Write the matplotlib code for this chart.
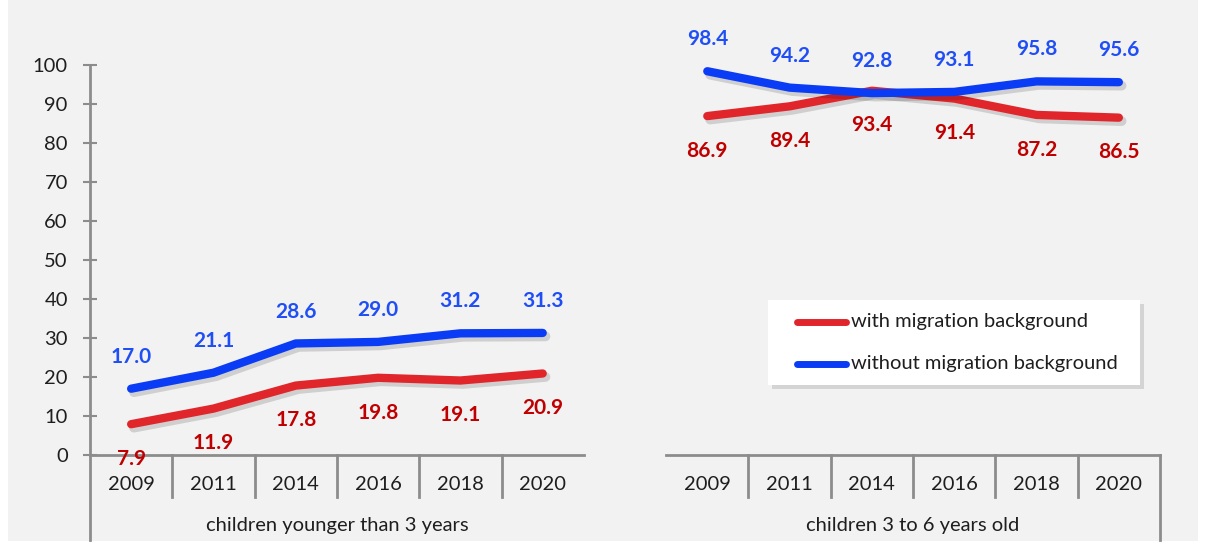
import matplotlib
matplotlib.use("Agg")
import matplotlib.pyplot as plt
import matplotlib.patheffects as pe
from matplotlib.patches import Rectangle
from matplotlib.lines import Line2D

years = ["2009", "2011", "2014", "2016", "2018", "2020"]
groups = ["children younger than 3 years", "children 3 to 6 years old"]
with_mig_u3 = [7.9, 11.9, 17.8, 19.8, 19.1, 20.9]
without_mig_u3 = [17.0, 21.1, 28.6, 29.0, 31.2, 31.3]
with_mig_36 = [86.9, 89.4, 93.4, 91.4, 87.2, 86.5]
without_mig_36 = [98.4, 94.2, 92.8, 93.1, 95.8, 95.6]
series_names = ["with migration background", "without migration background"]
yticks = [0, 10, 20, 30, 40, 50, 60, 70, 80, 90, 100]

FONT = ["Lato", "DejaVu Sans"]
plt.rcParams["font.family"] = FONT

W, H = 1206, 546
fig = plt.figure(figsize=(W / 100, H / 100), dpi=100, facecolor="white")
# gray chart area
fig.patches.append(Rectangle((8 / W, 5 / H), 1190 / W, 541 / H, transform=fig.transFigure,
                             facecolor="#f2f2f2", edgecolor="none", zorder=-10))

ax = fig.add_axes([90 / W, (H - 455) / H, 1070 / W, 390 / H])
ax.set_facecolor("none")
ax.set_xlim(-0.5, 12.5)
ax.set_ylim(0, 100)
for s in ax.spines.values():
    s.set_visible(False)

axis_col = "#8c8c8c"
txt_col = "#1e1e1e"
red_line, blue_line = "#e0262b", "#0a3cf5"
red_txt, blue_txt = "#c00000", "#1f4ef5"

n = len(years)
x1 = list(range(n))
x2 = [i + n + 1 for i in range(n)]

shadow = [pe.SimpleLineShadow(offset=(2, -2.5), shadow_color="black", alpha=0.14, linewidth=7),
          pe.Normal()]

for xs, w, wo in [(x1, with_mig_u3, without_mig_u3), (x2, with_mig_36, without_mig_36)]:
    ax.plot(xs, w, color=red_line, lw=6, solid_capstyle="round", solid_joinstyle="round",
            path_effects=shadow, zorder=3)
    ax.plot(xs, wo, color=blue_line, lw=6, solid_capstyle="round", solid_joinstyle="round",
            path_effects=shadow, zorder=4)
    for x, v in zip(xs, w):
        ax.annotate(f"{v:.1f}", (x, v), xytext=(0, -25), textcoords="offset points",
                    ha="center", va="center", color=red_txt, fontsize=15, fontweight="bold",
                    annotation_clip=False, zorder=6)
    for x, v in zip(xs, wo):
        ax.annotate(f"{v:.1f}", (x, v), xytext=(0, 23), textcoords="offset points",
                    ha="center", va="center", color=blue_txt, fontsize=15, fontweight="bold",
                    annotation_clip=False, zorder=6)

# y axis
ax.set_yticks(yticks)
ax.tick_params(axis="y", direction="inout", length=10, width=1.5, color=axis_col,
               labelsize=14.5, pad=11, labelcolor=txt_col)
ax.set_xticks([])
xt = ax.get_xaxis_transform()
# left spine extended down
ax.plot([-0.5, -0.5], [1.0, -0.218], transform=xt, color=axis_col, lw=2, clip_on=False)
ax.plot([12.5, 12.5], [0.0, -0.218], transform=xt, color=axis_col, lw=2, clip_on=False)
# x axis segments
ax.plot([-0.5, n - 0.5], [0, 0], transform=xt, color=axis_col, lw=2, clip_on=False)
ax.plot([n + 0.5, 2 * n + 0.5], [0, 0], transform=xt, color=axis_col, lw=2, clip_on=False)
# dividers between categories
for xs in (x1, x2):
    for x in xs[:-1]:
        ax.plot([x + 0.5, x + 0.5], [0, -0.108], transform=xt, color=axis_col, lw=2, clip_on=False)
    for x, lab in zip(xs, years):
        ax.text(x, -0.075, lab, transform=xt, ha="center", va="center", fontsize=14.5, color=txt_col)
for xs, g in zip((x1, x2), groups):
    ax.text((xs[0] + xs[-1]) / 2, -0.18, g, transform=xt, ha="center", va="center",
            fontsize=14.5, color=txt_col)

# legend
lx0, ly0, lw_, lh_ = 768, 300, 372, 85
fig.patches.append(Rectangle(((lx0 + 4) / W, (H - ly0 - lh_ - 4) / H), lw_ / W, lh_ / H,
                             transform=fig.transFigure, facecolor="#000000", alpha=0.12,
                             edgecolor="none", zorder=7))
fig.patches.append(Rectangle((lx0 / W, (H - ly0 - lh_) / H), lw_ / W, lh_ / H,
                             transform=fig.transFigure, facecolor="white", edgecolor="none", zorder=8))
for i, (name, col) in enumerate(zip(series_names, [red_line, blue_line])):
    yy = (H - (322 + 42 * i)) / H
    fig.lines.append(Line2D([797 / W, 846 / W], [yy, yy], transform=fig.transFigure, color=col,
                            lw=5, solid_capstyle="round", zorder=9))
    fig.text(851 / W, yy, name, ha="left", va="center", fontsize=14.5, color=txt_col, zorder=9)

fig.savefig("out.png", dpi=100, facecolor=fig.get_facecolor())
